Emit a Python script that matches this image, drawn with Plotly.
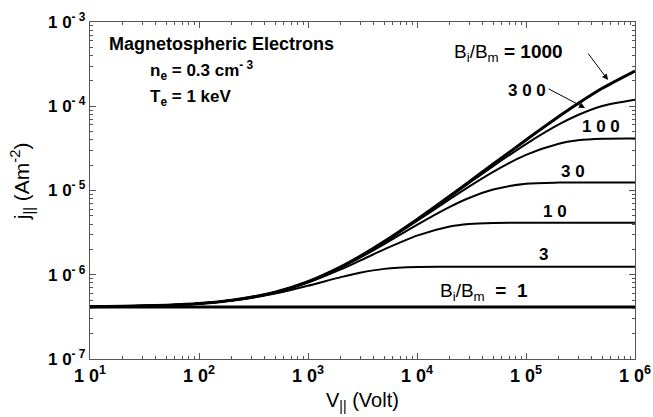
import plotly.graph_objects as go

# Parallel potential drop (Volt)
V = [10, 20, 50, 100, 200, 500, 1000, 2000, 3000, 5000, 1e4, 2e4, 3e4, 5e4,
     1e5, 2e5, 3e5, 5e5, 1e6]

# Current density j|| (A m^-2), labelled by Bi/Bm
j_K1 = [4.14e-7] * len(V)
j_K3 = [4.18e-7, 4.22e-7, 4.34e-7, 4.54e-7, 4.93e-7, 5.97e-7, 7.40e-7, 9.37e-7,
        1.057e-6, 1.174e-6, 1.236e-6, 1.242e-6, 1.242e-6, 1.242e-6, 1.242e-6,
        1.242e-6, 1.242e-6, 1.242e-6, 1.242e-6]
j_K10 = [4.18e-7, 4.22e-7, 4.35e-7, 4.55e-7, 4.96e-7, 6.15e-7, 8.06e-7, 1.156e-6,
         1.470e-6, 2.002e-6, 2.913e-6, 3.736e-6, 4.007e-6, 4.126e-6, 4.14e-6,
         4.14e-6, 4.14e-6, 4.14e-6, 4.14e-6]
j_K30 = [4.18e-7, 4.22e-7, 4.35e-7, 4.55e-7, 4.97e-7, 6.19e-7, 8.21e-7, 1.214e-6,
         1.594e-6, 2.315e-6, 3.916e-6, 6.396e-6, 8.153e-6, 1.028e-5, 1.204e-5,
         1.241e-5, 1.242e-5, 1.242e-5, 1.242e-5]
j_K100 = [4.18e-7, 4.22e-7, 4.35e-7, 4.55e-7, 4.97e-7, 6.21e-7, 8.26e-7, 1.234e-6,
          1.637e-6, 2.433e-6, 4.352e-6, 7.910e-6, 1.113e-5, 1.667e-5, 2.647e-5,
          3.596e-5, 3.942e-5, 4.114e-5, 4.14e-5]
j_K300 = [4.18e-7, 4.22e-7, 4.35e-7, 4.55e-7, 4.97e-7, 6.21e-7, 8.27e-7, 1.239e-6,
          1.650e-6, 2.467e-6, 4.486e-6, 8.423e-6, 1.223e-5, 1.948e-5, 3.560e-5,
          6.079e-5, 7.881e-5, 1.009e-4, 1.198e-4]
j_K1000 = [4.18e-7, 4.22e-7, 4.35e-7, 4.55e-7, 4.97e-7, 6.21e-7, 8.28e-7, 1.241e-6,
           1.654e-6, 2.479e-6, 4.533e-6, 8.612e-6, 1.265e-5, 2.060e-5, 3.981e-5,
           7.546e-5, 1.077e-4, 1.633e-4, 2.620e-4]

series = [("1", j_K1, 3), ("3", j_K3, 2), ("10", j_K10, 2), ("30", j_K30, 2),
          ("100", j_K100, 2), ("300", j_K300, 2), ("1000", j_K1000, 3)]

x_tickvals = [1e1, 1e2, 1e3, 1e4, 1e5, 1e6]
x_ticktext = ["1 0<sup>1</sup>", "1 0<sup>2</sup>", "1 0<sup>3</sup>",
              "1 0<sup>4</sup>", "1 0<sup>5</sup>", "1 0<sup>6</sup>"]
y_tickvals = [1e-7, 1e-6, 1e-5, 1e-4, 1e-3]
y_ticktext = ["1 0<sup>- 7</sup>", "1 0<sup>- 6</sup>", "1 0<sup>- 5</sup>",
              "1 0<sup>- 4</sup>", "1 0<sup>- 3</sup>"]

x_minor = [m * 10 ** e for e in range(1, 6) for m in range(2, 10)]
y_minor = [m * 10.0 ** e for e in range(-7, -3) for m in range(2, 10)]

fig = go.Figure()
for name, ys, w in series:
    fig.add_trace(go.Scatter(x=V, y=ys, mode="lines", name=name,
                             line=dict(color="black", width=w, shape="spline",
                                       smoothing=0.8),
                             showlegend=False))
# empty trace so the minor-tick overlay axes are drawn
fig.add_trace(go.Scatter(x=[None], y=[None], xaxis="x2", yaxis="y2",
                         mode="lines", showlegend=False, hoverinfo="skip"))

FONT = "Liberation Sans, Arial, sans-serif"

def ann(text, x, y, xanchor="left", size=14, bold=True, angle=0):
    fig.add_annotation(text=text, x=x, y=y, xref="paper", yref="paper",
                       xanchor=xanchor, yanchor="middle", showarrow=False,
                       textangle=angle,
                       font=dict(family=FONT, size=size, color="black",
                                 weight="bold" if bold else "normal"))

NB = "<span style='font-weight:normal'>B<sub>i</sub>/B<sub>m</sub></span>"
ann("Magnetospheric Electrons", 0.031, 0.935, size=18)
ann("n<sub>e</sub> = 0.3 cm<sup>- 3</sup>", 0.106, 0.855, size=17)
ann("T<sub>e</sub> = 1 keV", 0.106, 0.775, size=17)
ann(NB + " = 1000", 0.664, 0.908, size=19)
ann("3 0 0", 0.802, 0.798, xanchor="center", size=17)
ann("1 0 0", 0.938, 0.690, xanchor="center", size=17)
ann("3 0", 0.886, 0.557, xanchor="center", size=17)
ann("1 0", 0.853, 0.438, xanchor="center", size=17)
ann("3", 0.833, 0.311, xanchor="center", size=17)
ann(NB + "  =  1", 0.639, 0.200, size=19)

# axis titles
ann("V<sub>||</sub> (Volt)", 0.5, -0.125, xanchor="center", size=20, bold=False)
ann("j<sub>||</sub> (Am<sup>-2</sup>)", -0.125, 0.527, xanchor="center",
    size=21, bold=False, angle=-90)

# arrows
for hx, hy, ax, ay in [(608, 80, -21, -28), (585, 108, -38, -20)]:
    fig.add_annotation(text="", x=(hx - 90) / 545, y=(359 - hy) / 337,
                       xref="paper", yref="paper", ax=ax, ay=ay,
                       showarrow=True, arrowhead=2, arrowsize=1.2,
                       arrowwidth=1, arrowcolor="black")

AXC = "#555"
axis_common = dict(type="log", showgrid=False, zeroline=False, showline=True,
                   linecolor=AXC, linewidth=1.2, mirror="allticks",
                   ticks="inside", ticklen=6, tickwidth=1, tickcolor=AXC,
                   automargin=False)
minor_common = dict(type="log", tickmode="array", showticklabels=False,
                    ticks="inside", ticklen=3, tickwidth=1, tickcolor=AXC,
                    showline=True, linecolor=AXC, linewidth=1.2,
                    mirror="ticks", showgrid=False, zeroline=False,
                    automargin=False)

fig.update_layout(
    xaxis=dict(**axis_common, range=[1, 6], tickmode="array",
               tickvals=x_tickvals, ticktext=x_ticktext,
               tickfont=dict(family=FONT, size=18, color="black", weight="bold")),
    yaxis=dict(**axis_common, range=[-7, -3], tickmode="array",
               tickvals=y_tickvals, ticktext=y_ticktext,
               tickfont=dict(family=FONT, size=17, color="black", weight="bold")),
    # overlay axes carrying the minor ticks
    xaxis2=dict(**minor_common, range=[1, 6], overlaying="x", anchor="y2",
                side="bottom", tickvals=x_minor),
    yaxis2=dict(**minor_common, range=[-7, -3], overlaying="y", anchor="x2",
                side="left", tickvals=y_minor),
    width=653, height=417, plot_bgcolor="white", paper_bgcolor="white",
    margin=dict(l=90, r=18, t=22, b=58),
)

fig.write_html("out.html")
